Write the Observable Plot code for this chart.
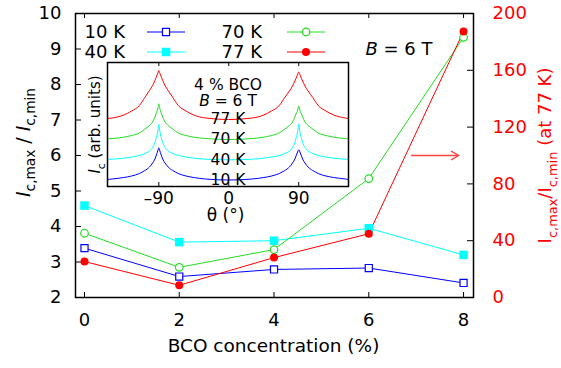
<!DOCTYPE html>
<html><head><meta charset="utf-8">
<script src="https://cdn.jsdelivr.net/npm/d3@7"></script>
<script src="https://cdn.jsdelivr.net/npm/@observablehq/plot@0.6"></script>
<style>
body{margin:0;background:#fff;}
#wrap{position:relative;width:561px;height:368px;}
#wrap svg{position:absolute;left:0;top:0;}
</style></head><body><div id="wrap"></div>
<script>
// ---------- main chart data ----------
const concentration = [0, 2, 4, 6, 8];           // BCO concentration (%)
const ratio10K = [3.39, 2.59, 2.79, 2.83, 2.41];  // left axis
const ratio40K = [4.59, 3.56, 3.60, 3.95, 3.20];  // left axis
const ratio70K = [3.81, 2.85, 3.35, 5.35, 9.33];  // left axis
const ratio77K = [25.3, 8.6, 28.1, 44.9, 187.4];  // right axis (at 77 K)
const seriesNames = ["10 K", "40 K", "70 K", "77 K"];
const seriesColors = ["#0000ff", "#00ffff", "#22dd22", "#ff0000"];
const xTicks = [0, 2, 4, 6, 8];
const yTicks = [2, 3, 4, 5, 6, 7, 8, 9, 10];
const rightTicks = [0, 40, 80, 120, 160, 200];
const arrowX = [6.9, 7.9];
const arrowY = [6.0, 6.0];

// ---------- inset data (4 % BCO, B = 6 T) ----------
const theta = [-156,-150,-135,-125,-115,-108,-102,-98,-95,-93.5,-92,-91,-90,-89,-88,-86.5,-85,-82,-78,-72,-65,-55,-45,-30,0,30,45,55,65,72,78,82,85,86.5,88,89,90,91,92,93.5,95,98,102,108,115,125,135,150,154];
const ic77 = [68,68.5,71.5,75.5,81,89,96,101,106,109,112,114,116,114,112,109,106,101,96,89,81,75.5,71.5,68.5,67,68.5,71.5,75.5,81,89,95.5,100.5,105.5,108,111,113,114.5,113,111,108,105.5,100.5,95.5,89,81,75.5,71.5,68.5,68];
const ic70 = [47.8,48,49.3,51,53.5,57.5,61,64.5,69.5,72.5,76,79,82.7,79,76,72.5,69.5,64.5,61,57.5,53.5,51,49.3,48,47,48,49.3,51,53.5,57.5,61,64.5,69.5,72.5,75,77.5,80.5,77.5,75,72.5,69.5,64.5,61,57.5,53.5,51,49.3,48,47.8];
const ic40 = [27,27.3,28.3,29.5,31,33,35.5,39,44,48,52.5,57,62,57,52.5,48,44,39,35.5,33,31,29.5,28.3,27.3,26.7,27.3,28.3,29.5,31,33,35.5,39,44,48,52.5,57.5,62.7,57.5,52.5,48,44,39,35.5,33,31,29.5,28.3,27.3,27];
const ic10 = [7,7.5,9,10.5,13,16,19.5,23.5,27.5,30.5,34,36.5,38.7,36.5,34,30.5,27.5,23.5,19.5,16,13,10.5,9,7.5,6.5,7.5,9,10.5,13,16,19.5,23.5,27.5,30.5,33.5,35.5,36.7,35.5,33.5,30.5,27.5,23.5,19.5,16,13,10.5,9,7.5,7];
const insetTicks = [-90, 0, 90];
const insetLabels = ["4 % BCO", "B = 6 T", "77 K", "70 K", "40 K", "10 K"];

// ---------- helpers ----------
const FONT = "DejaVu Sans";
const toLeft = v => 2 + v / 25;   // right-axis value -> left-axis position
const rows = (vals, f = d => d) => concentration.map((c, i) => ({x: c, y: f(vals[i])}));
const s10 = rows(ratio10K), s40 = rows(ratio40K), s70 = rows(ratio70K), s77 = rows(ratio77K, toLeft);

function richText(svg, plain, parts, size) {
  d3.select(svg).selectAll("text").filter(function(){ return this.textContent === plain; })
    .each(function(){
      const t = d3.select(this);
      t.text(null);
      let shift = 0;
      for (const p of parts) {
        const target = p.sub ? size * 0.3 : 0;
        const ts = t.append("tspan").text(p.t).attr("dy", target - shift);
        shift = target;
        if (p.it) ts.attr("font-style", "italic");
        if (p.sub) ts.attr("font-size", size * 0.72);
      }
    });
}

const W = 561, H = 368, ML = 75, MR = 88, MT = 13, MB = 71;
const FW = W - ML - MR, FH = H - MT - MB;
const TK = 5;

const main = Plot.plot({
  width: W, height: H, marginLeft: ML, marginRight: MR, marginTop: MT, marginBottom: MB,
  style: {fontFamily: FONT, fontSize: "18px", color: "black", background: "white"},
  x: {domain: [-0.19, 8.21]},
  y: {domain: [2, 10]},
  marks: [
    Plot.axisX({ticks: xTicks, tickSize: 0, tickPadding: 16, label: null, tickFormat: d => String(d)}),
    Plot.axisY({anchor: "left", ticks: yTicks, tickSize: 0, tickPadding: 14, label: null, tickFormat: d => String(d)}),
    Plot.axisY({anchor: "right", ticks: rightTicks.map(toLeft), tickSize: 0, tickPadding: 19, label: null,
      fill: "#ff0000", tickFormat: d => String(Math.round((d - 2) * 25))}),
    // inward ticks
    Plot.ruleX(xTicks, {x: d => d, insetTop: FH - TK, stroke: "black"}),
    Plot.ruleX(xTicks, {x: d => d, insetBottom: FH - TK, stroke: "black"}),
    Plot.ruleY(yTicks, {y: d => d, insetRight: FW - TK - 1, stroke: "black"}),
    Plot.ruleY(rightTicks.map(toLeft), {y: d => d, insetLeft: FW - TK - 1, stroke: "black"}),
    // series
    Plot.line(s40, {x: "x", y: "y", stroke: seriesColors[1], strokeWidth: 1}),
    Plot.line(s10, {x: "x", y: "y", stroke: seriesColors[0], strokeWidth: 1}),
    Plot.line(s70, {x: "x", y: "y", stroke: seriesColors[2], strokeWidth: 1}),
    Plot.line(s77, {x: "x", y: "y", stroke: seriesColors[3], strokeWidth: 1}),
    Plot.dot(s40, {x: "x", y: "y", symbol: "square", fill: seriesColors[1], r: 4.8}),
    Plot.dot(s10, {x: "x", y: "y", symbol: "square", stroke: seriesColors[0], fill: "white", strokeWidth: 1.2, r: 4}),
    Plot.dot(s70, {x: "x", y: "y", symbol: "circle", stroke: seriesColors[2], fill: "white", strokeWidth: 1.2, r: 3.8}),
    Plot.dot(s77, {x: "x", y: "y", symbol: "circle", fill: seriesColors[3], r: 4}),
    Plot.arrow([{x1: arrowX[0], x2: arrowX[1], y1: arrowY[0], y2: arrowY[1]}],
      {x1: "x1", x2: "x2", y1: "y1", y2: "y2", stroke: "#ff4444", strokeWidth: 1.4, headLength: 9}),
    Plot.frame({stroke: "black", strokeWidth: 1.5}),
    // titles
    Plot.text(["Ic,max / Ic,min"], {text: d => d, frameAnchor: "left", textAnchor: "middle", dx: -52, dy: -13, rotate: -90, fontSize: 19}),
    Plot.text(["Ic,max/Ic,min (at 77 K)"], {text: d => d, frameAnchor: "right", textAnchor: "middle", dx: 72, dy: 0, rotate: -90, fontSize: 18, fill: "#ff0000"}),
    Plot.text(["BCO concentration (%)"], {text: d => d, frameAnchor: "bottom", textAnchor: "middle", dx: -1, dy: 54, fontSize: 18.5}),
    Plot.text(["B = 6 T"], {text: d => d, frameAnchor: "top-right", textAnchor: "end", dx: -41, dy: 29, fontSize: 18})
  ]
});

richText(main, "Ic,max / Ic,min", [{t: "I", it: true}, {t: "c,max", sub: true}, {t: " / "}, {t: "I", it: true}, {t: "c,min", sub: true}], 19);
richText(main, "Ic,max/Ic,min (at 77 K)", [{t: "I"}, {t: "c,max", sub: true}, {t: "/I"}, {t: "c,min", sub: true}, {t: " (at 77 K)"}], 18);
richText(main, "B = 6 T", [{t: "B", it: true}, {t: " = 6 T"}], 18);

// legend
{
  const g = d3.select(main).append("g").attr("font-family", FONT).attr("font-size", 18);
  const pos = [
    {tx: 125, y: 32, lx: 147},
    {tx: 125, y: 52, lx: 147},
    {tx: 262, y: 32, lx: 287},
    {tx: 262, y: 52, lx: 287}
  ];
  const sym = [
    {type: d3.symbolSquare, r: 4, fill: "white", stroke: true},
    {type: d3.symbolSquare, r: 4.8, fill: null, stroke: false},
    {type: d3.symbolCircle, r: 3.8, fill: "white", stroke: true},
    {type: d3.symbolCircle, r: 4, fill: null, stroke: false}
  ];
  seriesNames.forEach((name, i) => {
    const p = pos[i], c = seriesColors[i], s = sym[i];
    g.append("text").attr("x", p.tx).attr("y", p.y).attr("dy", "0.35em").attr("text-anchor", "end").attr("fill", "black").text(name);
    g.append("line").attr("x1", p.lx).attr("x2", p.lx + 38).attr("y1", p.y).attr("y2", p.y).attr("stroke", c).attr("stroke-width", 1);
    g.append("path").attr("transform", `translate(${p.lx + 19},${p.y})`)
      .attr("d", d3.symbol(s.type, s.r * s.r * Math.PI)())
      .attr("fill", s.fill || c).attr("stroke", s.stroke ? c : "none").attr("stroke-width", 1.2);
  });
}

// ---------- inset ----------
const IW = 280, IH = 175, IML = 27, IMR = 12, IMT = 7, IMB = 44;
const IFH = IH - IMT - IMB;
const curve = (vals) => theta.map((t, i) => ({t, v: vals[i]}));
const inset = Plot.plot({
  width: IW, height: IH, marginLeft: IML, marginRight: IMR, marginTop: IMT, marginBottom: IMB,
  style: {fontFamily: FONT, fontSize: "17px", color: "black", background: "transparent"},
  x: {domain: [-156, 154]},
  y: {domain: [0, 124], axis: null},
  marks: [
    Plot.frame({fill: "white", stroke: null}),
    Plot.axisX({ticks: insetTicks, tickSize: 0, tickPadding: 5, label: null,
      tickFormat: d => d < 0 ? "\u2013" + Math.abs(d) : String(d)}),
    Plot.ruleX(insetTicks, {x: d => d, insetTop: IFH - 4, stroke: "black"}),
    Plot.ruleX(insetTicks, {x: d => d, insetBottom: IFH - 4, stroke: "black"}),
    Plot.line(curve(ic77), {x: "t", y: "v", stroke: seriesColors[3], strokeWidth: 1, curve: "monotone-x"}),
    Plot.line(curve(ic70), {x: "t", y: "v", stroke: seriesColors[2], strokeWidth: 1, curve: "monotone-x"}),
    Plot.line(curve(ic40), {x: "t", y: "v", stroke: seriesColors[1], strokeWidth: 1, curve: "monotone-x"}),
    Plot.line(curve(ic10), {x: "t", y: "v", stroke: seriesColors[0], strokeWidth: 1, curve: "monotone-x"}),
    Plot.text(insetLabels, {text: d => d, frameAnchor: "top", textAnchor: "middle", fontSize: 15.5}),
    Plot.frame({stroke: "black", strokeWidth: 1.5}),
    Plot.text(["Ic (arb. units)"], {text: d => d, frameAnchor: "left", textAnchor: "middle", dx: -12, rotate: -90, fontSize: 15}),
    Plot.text(["\u03b8 (\u00b0)"], {text: d => d, frameAnchor: "bottom", textAnchor: "middle", dx: -2.5, dy: 34, fontSize: 17})
  ]
});
// position inset labels vertically (one row each)
{
  const offs = [16.5, 32, 50.5, 70.5, 91.5, 111.5];
  d3.select(inset).selectAll("text").each(function(){
    const k = insetLabels.indexOf(this.textContent);
    if (k >= 0) {
      const tr = this.getAttribute("transform") || "";
      this.setAttribute("transform", tr + ` translate(0,${offs[k]})`);
    }
  });
}
richText(inset, "Ic (arb. units)", [{t: "I", it: true}, {t: "c", sub: true}, {t: " (arb. units)"}], 15);
richText(inset, "B = 6 T", [{t: "B", it: true}, {t: " = 6 T"}], 15.5);

inset.style.left = "80px";
inset.style.top = "55px";

const wrap = document.getElementById("wrap");
wrap.appendChild(main);
wrap.appendChild(inset);
</script></body></html>
